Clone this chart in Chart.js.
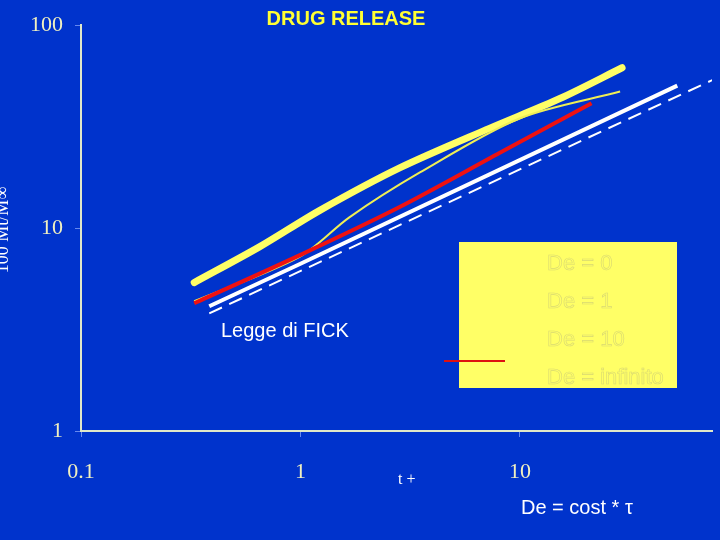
<!DOCTYPE html>
<html><head><meta charset="utf-8">
<script src="https://cdn.jsdelivr.net/npm/chart.js@4"></script>
<style>html,body{margin:0;padding:0;background:#0033cc;}#w{width:720px;height:540px;}</style>
</head><body><div id="w"><canvas id="c"></canvas></div>
<script>
const seriesNames = ["De = 0", "De = 1", "De = 10", "De = infinito", "Legge di FICK"];
const de0 = [[0.328,5.39],[0.65,8.08],[1.22,12.2],[2.83,19.8],[7.3,31.1],[15.2,43.5],[29.2,61.7]];
const de1 = [[0.328,4.36],[0.99,7.22],[1.67,11.3],[3.5,18.8],[10,34.8],[28.6,47.1]];
const de10 = [[0.328,4.26],[1,7.38],[2.83,12.7],[8.1,23.5],[21.2,41.2]];
const deInf = [[0.384,4.12],[1,6.67],[52.1,50.4]];
const fick = [[0.384,3.8],[77.7,54.5]];
const xTicks = [0.1, 1, 10];
const yTicks = [1, 10, 100];

const pts = a => a.map(p => ({x:p[0], y:p[1]}));
const labelFont = {family:"Liberation Serif", size:22};
const overlay = {
  id:'overlay',
  afterDraw(ch){
    const c = ch.ctx; c.save();
    c.fillStyle = '#ffff66'; c.fillRect(459,242,218,146);
    c.font = '22px "Liberation Sans"'; c.fillStyle = '#ffff66';
    c.strokeStyle = 'rgba(200,200,120,0.7)'; c.lineWidth = 0.6;
    const leg = ["De = 0","De = 1","De = 10","De = infinito"];
    leg.forEach((t,i)=>{ c.strokeText(t,547,270+i*38); });
    c.strokeStyle = '#dd1111'; c.lineWidth = 2;
    c.beginPath(); c.moveTo(444,361); c.lineTo(505,361); c.stroke();
    c.fillStyle = '#ffff33'; c.font = 'bold 20px "Liberation Sans"'; c.textAlign='center';
    c.fillText('DRUG RELEASE',346,25);
    c.fillStyle = '#ffffff'; c.textAlign='left'; c.font = '20px "Liberation Sans"';
    c.fillText('Legge di FICK',221,337);
    c.fillText('De = cost * τ',521,514);
    c.font = '16px "Liberation Serif"'; c.fillText('t +',398,484);
    c.translate(8,230); c.rotate(-Math.PI/2); c.textAlign='center';
    c.font = '18px "Liberation Serif"'; c.fillText('100 Mt/M∞',0,0);
    c.restore();
  }
};
new Chart(document.getElementById('c'), {
  type:'line',
  data:{datasets:[
    {label:seriesNames[4], data:pts(fick), borderColor:'#ffffff', borderWidth:2, borderDash:[14,8], pointRadius:0},
    {label:seriesNames[3], data:pts(deInf), borderColor:'#ffffff', borderWidth:4, pointRadius:0},
    {label:seriesNames[2], data:pts(de10), borderColor:'#ee1111', borderWidth:4, pointRadius:0, tension:0.3},
    {label:seriesNames[1], data:pts(de1), borderColor:'#eeee55', borderWidth:2, pointRadius:0, tension:0.3},
    {label:seriesNames[0], data:pts(de0), borderColor:'#ffff66', borderWidth:7, pointRadius:0, tension:0.3, borderCapStyle:'round'}
  ]},
  options:{
    responsive:true, maintainAspectRatio:false, animation:false,
    layout:{padding:{top:22,right:8,left:0,bottom:0}},
    plugins:{legend:{display:false}, tooltip:{enabled:false}},
    scales:{
      x:{type:'logarithmic', min:0.1, max:75,
        afterBuildTicks(s){ s.ticks = xTicks.map(v=>({value:v})); },
        afterFit(s){ s.height = 109; },
        ticks:{color:'#f0f0c0', font:labelFont, padding:22, callback:v=>String(v), autoSkip:false, maxRotation:0},
        grid:{display:true, drawOnChartArea:false, tickLength:6, color:'#6688ee'},
        border:{color:'#e0e8c8', width:2}},
      y:{type:'logarithmic', min:1, max:100,
        afterBuildTicks(s){ s.ticks = yTicks.map(v=>({value:v})); },
        afterFit(s){ s.width = 81; },
        ticks:{color:'#f0f0c0', font:labelFont, padding:12, callback:v=>String(v), autoSkip:false},
        grid:{display:true, drawOnChartArea:false, tickLength:6, color:'#6688ee'},
        border:{color:'#e0e8c8', width:2}}
    }
  },
  plugins:[overlay]
});
</script></body></html>
